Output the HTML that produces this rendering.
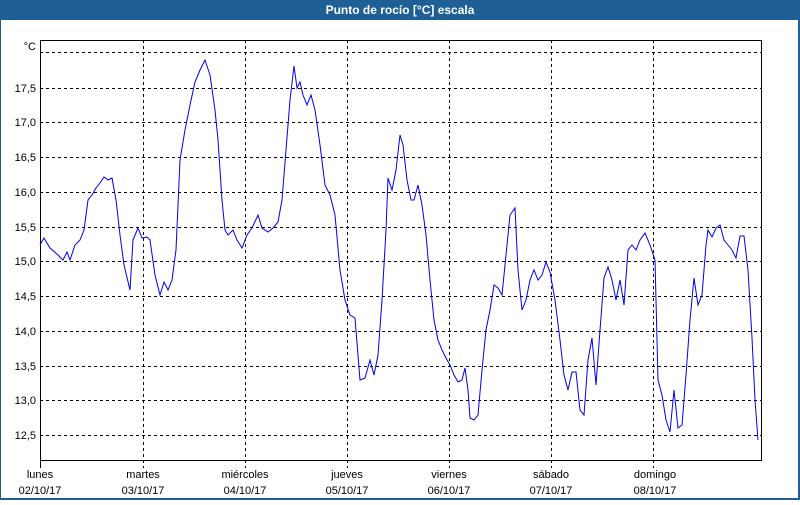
<!DOCTYPE html>
<html><head><meta charset="utf-8"><style>
body{margin:0;width:800px;height:500px;overflow:hidden;background:#fff;font-family:"Liberation Sans",sans-serif}
</style></head><body>
<svg width="800" height="500" xmlns="http://www.w3.org/2000/svg" font-family="Liberation Sans, sans-serif" font-size="11">
<rect x="0" y="0" width="800" height="500" fill="#1e6096"/>
<rect x="1" y="20" width="797" height="478" fill="#fff"/>
<text x="400" y="14" fill="#fff" font-weight="bold" font-size="12" text-anchor="middle">Punto de rocío [°C] escala</text>
<g stroke="#000" stroke-dasharray="3,3" stroke-width="1">
<line x1="40" y1="52.5" x2="761" y2="52.5"/><line x1="40" y1="88.5" x2="761" y2="88.5"/><line x1="40" y1="122.5" x2="761" y2="122.5"/><line x1="40" y1="157.5" x2="761" y2="157.5"/><line x1="40" y1="192.5" x2="761" y2="192.5"/><line x1="40" y1="227.5" x2="761" y2="227.5"/><line x1="40" y1="261.5" x2="761" y2="261.5"/><line x1="40" y1="296.5" x2="761" y2="296.5"/><line x1="40" y1="331.5" x2="761" y2="331.5"/><line x1="40" y1="366.5" x2="761" y2="366.5"/><line x1="40" y1="400.5" x2="761" y2="400.5"/><line x1="40" y1="435.5" x2="761" y2="435.5"/>
<line x1="143.5" y1="40" x2="143.5" y2="468"/><line x1="245.5" y1="40" x2="245.5" y2="468"/><line x1="347.5" y1="40" x2="347.5" y2="468"/><line x1="449.5" y1="40" x2="449.5" y2="468"/><line x1="551.5" y1="40" x2="551.5" y2="468"/><line x1="653.5" y1="40" x2="653.5" y2="468"/>
</g>
<line x1="40.5" y1="460" x2="40.5" y2="468" stroke="#000"/>
<rect x="40.5" y="40.5" width="721" height="420" fill="none" stroke="#000"/>
<g fill="#000" text-anchor="end">
<text x="36" y="50">°C</text>
<text x="36" y="92">17,5</text><text x="36" y="126">17,0</text><text x="36" y="161">16,5</text><text x="36" y="196">16,0</text><text x="36" y="231">15,5</text><text x="36" y="265">15,0</text><text x="36" y="300">14,5</text><text x="36" y="335">14,0</text><text x="36" y="370">13,5</text><text x="36" y="404">13,0</text><text x="36" y="439">12,5</text>
</g>
<g fill="#000" text-anchor="middle">
<text x="40" y="478">lunes</text><text x="40" y="494">02/10/17</text>
<text x="143" y="478">martes</text><text x="143" y="494">03/10/17</text>
<text x="245" y="478">miércoles</text><text x="245" y="494">04/10/17</text>
<text x="347" y="478">jueves</text><text x="347" y="494">05/10/17</text>
<text x="449" y="478">viernes</text><text x="449" y="494">06/10/17</text>
<text x="551" y="478">sábado</text><text x="551" y="494">07/10/17</text>
<text x="655" y="478">domingo</text><text x="655" y="494">08/10/17</text>
</g>
<polyline fill="none" stroke="#0000ee" stroke-width="1" points="40,245 44,238 50,248 58,255 63,260 67,252 70,260 75,245 80,240 84,230 88,200 92,195 96,188 100,183 104,177 108,180 112,178 116,200 120,235 124,265 130,290 133,240 138,228 142,238 147,237 150,240 155,275 160,295 164,282 168,290 172,280 176,250 180,160 185,130 190,105 195,82 200,70 205,60 210,75 215,110 218,140 222,200 225,230 228,235 233,230 237,240 242,248 247,235 252,228 258,215 262,228 268,232 273,228 278,222 282,200 286,150 290,100 294,66 297,88 300,82 303,95 307,105 311,95 315,110 320,145 325,185 330,195 335,215 340,270 345,300 350,315 355,318 360,380 365,378 370,360 374,375 378,355 382,300 386,230 388,178 392,190 396,170 400,135 403,145 407,180 411,200 414,200 418,185 422,205 426,235 430,280 434,320 438,340 442,350 446,358 450,365 454,375 458,382 462,380 465,368 468,390 470,418 474,420 478,415 482,370 486,330 490,310 494,285 498,288 502,295 506,255 510,215 515,208 518,270 522,310 526,300 530,280 534,270 538,280 542,275 546,262 550,272 555,300 560,340 564,375 568,390 572,372 576,372 580,410 584,415 588,360 592,338 596,385 600,330 604,278 608,267 612,280 616,300 620,280 624,305 628,250 632,245 636,250 640,240 645,233 650,245 655,260 658,380 662,395 666,420 670,432 674,390 678,428 682,425 686,375 690,320 694,278 698,305 702,295 706,245 708,230 712,237 716,228 720,225 724,240 728,245 732,250 736,258 740,236 744,236 748,270 752,338 755,400 758,440"/>
</svg>
</body></html>
